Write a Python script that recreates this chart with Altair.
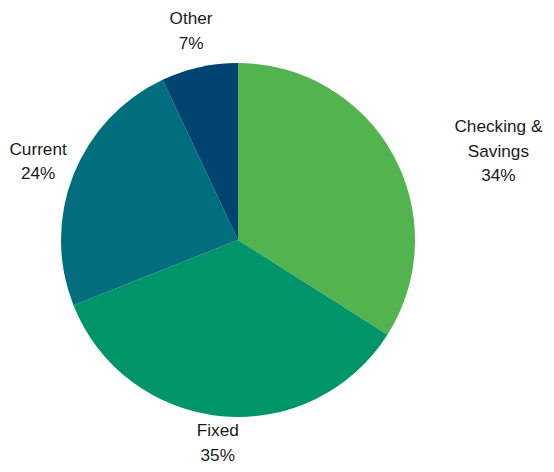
import altair as alt
import pandas as pd

categories = ["Checking & Savings", "Fixed", "Current", "Other"]
shares = [34, 35, 24, 7]
label_lines = ["Checking &\nSavings\n34%", "Fixed\n35%", "Current\n24%", "Other\n7%"]
colors = ["#52b34f", "#00946b", "#006e7c", "#004571"]

df = pd.DataFrame({
    "category": categories,
    "share": shares,
    "label": label_lines,
    "order": list(range(len(categories))),
})

cx, cy = 230, 232

arcs = alt.Chart(df).mark_arc(outerRadius=177, stroke=None).encode(
    theta=alt.Theta("share:Q", stack=True),
    order=alt.Order("order:Q"),
    color=alt.Color("category:N", scale=alt.Scale(domain=categories, range=colors), legend=None),
    x=alt.value(cx),
    y=alt.value(cy),
)

txt_style = dict(font="Liberation Sans", fontSize=17.2, lineBreak="\n", lineHeight=24.5,
                 color="#1a1a1a", align="center", baseline="middle")

lab_base = alt.Chart(df).transform_window(
    cum="sum(share)", sort=[alt.SortField("order")]
).transform_calculate(
    mid="datum.cum - datum.share / 2"
).encode(
    theta=alt.Theta("mid:Q", stack=None, scale=alt.Scale(domain=[0, 100], range=[0, 6.283185307])),
    text="label:N",
    x=alt.value(cx),
    y=alt.value(cy),
)

labels_side = lab_base.transform_filter(
    (alt.datum.category == "Current") | (alt.datum.category == "Other")
).mark_text(radius=215, dy=-11, **txt_style)

labels_fixed = lab_base.transform_filter(alt.datum.category == "Fixed").mark_text(
    radius=215, dy=-23, **txt_style
)

labels_cs = lab_base.transform_filter(alt.datum.category == "Checking & Savings").mark_text(
    radius=215, dx=72, dy=-9, **txt_style
)

chart = alt.layer(arcs, labels_side, labels_fixed, labels_cs).properties(
    width=538, height=456, padding=0, autosize=alt.AutoSizeParams(type="none")
).configure_view(stroke=None)

chart.save("out.html", embed_options={"renderer": "svg", "actions": False})
